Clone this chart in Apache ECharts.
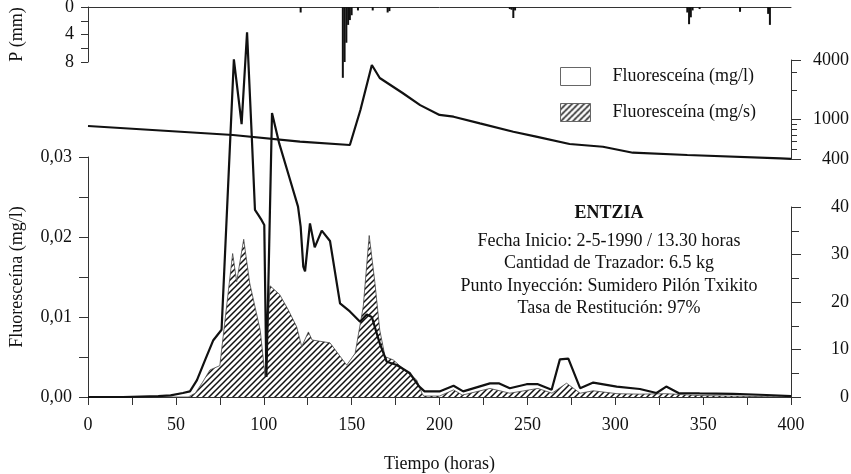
<!DOCTYPE html>
<html>
<head>
<meta charset="utf-8">
<script src="https://cdn.jsdelivr.net/npm/echarts@6/dist/echarts.min.js"></script>
<style>
  html, body { margin: 0; padding: 0; background: #fff; }
  #chart { width: 851px; height: 474px; }
</style>
</head>
<body>
<div id="chart"></div>
<script>
// precipitacion (mm) por hora
const rainHours = [121, 145, 146, 147, 148, 149, 150, 153.6, 162, 170.5, 171.5, 240, 241, 242, 243, 341, 342, 343, 344, 348, 371, 387, 388]
const rainValues = [0.8, 10.3, 8, 5.2, 2.6, 1.9, 1.2, 0.5, 0.5, 0.8, 0.6, 0.3, 0.4, 1.6, 0.5, 0.8, 2.5, 1.5, 0.5, 0.3, 0.7, 1.0, 2.6]

// caudal (escala log)
const flowHours = [0, 82.5, 120.6, 149, 155, 161.5, 166, 179, 189, 200, 208, 223, 242, 255, 274, 293, 310, 341, 394, 400]
const flowValues = [862, 699, 598, 554, 1249, 3561, 2633, 1857, 1400, 1115, 1070, 916, 754, 672, 567, 532, 463, 439, 406, 402]

// fluoresceina (mg/l)
const concHours = [0, 20, 40, 47, 54, 58, 62, 66.6, 71.3, 76, 83, 87.4, 90.5, 93.1, 95, 96.8, 98.8, 100.3, 101.5, 104.7,
  108.8, 114.5, 119.5, 121, 122.5, 123.5, 126.3, 129, 133, 137.7, 143.4, 149, 154.8, 158.6, 161.5, 166, 170, 175.7,
  183, 188.5, 191.5, 200, 208, 213.5, 228.7, 234, 240, 249.6, 256, 263.8, 268.5, 273.3, 280, 287.5, 300.8, 314,
  323.5, 329, 336, 348, 367, 386, 400]
const concValues = [0, 0, 0.0001, 0.0002, 0.0005, 0.0007, 0.0021, 0.0046, 0.0071, 0.0084, 0.0422, 0.0341, 0.0456, 0.0330, 0.0234, 0.0228, 0.0221, 0.0215, 0.0025, 0.0355,
  0.0317, 0.0275, 0.0238, 0.0213, 0.0163, 0.0157, 0.0217, 0.0187, 0.0208, 0.0195, 0.0117, 0.0107, 0.0094, 0.0103, 0.0100, 0.0067, 0.0044, 0.0040,
  0.0030, 0.0013, 0.0007, 0.0007, 0.0014, 0.0007, 0.0017, 0.0017, 0.0011, 0.0016, 0.0016, 0.0009, 0.0047, 0.0048, 0.0011, 0.0018, 0.0013, 0.0010,
  0.0005, 0.0013, 0.0005, 0.00045, 0.0004, 0.00025, 0.0001]

// fluoresceina (mg/s)
const fluxHours = [0, 57, 61, 65, 69.4, 75, 82.3, 84.6, 88.6, 92, 98, 100.8, 103.6, 109, 114, 118.7, 121.6, 125.4, 127.5, 137.7,
  147.2, 152, 156.6, 160, 163.3, 166, 169, 173.7, 181.3, 187, 190, 191, 200, 208, 213, 228.7, 240, 256, 264, 272.3,
  280, 287.5, 301, 314, 329, 348, 380, 400]
const fluxValues = [0, 0, 0.8, 3, 5.7, 6.6, 30.2, 24.3, 33.2, 24, 14, 4.3, 23.4, 21.6, 18.3, 14.8, 10.6, 13.7, 12, 11.4,
  6.7, 9.2, 19, 34, 23.9, 14.1, 8.5, 7.8, 5.3, 3.6, 0.8, 0.2, 0.2, 1.5, 0.4, 1.8, 0.8, 1.8, 0.8, 2.9,
  0.8, 1.3, 0.7, 0.6, 0.7, 0.3, 0.1, 0]

const flowMajorTicks = [400, 1000, 4000]
const flowMinorTicks = [500, 600, 700, 800, 900, 2000, 3000]

const infoLines = ['Fecha Inicio: 2-5-1990 / 13.30 horas', 'Cantidad de Trazador: 6.5 kg',
  'Punto Inyección: Sumidero Pilón Txikito', 'Tasa de Restitución: 97%']

const pair = (xs, ys) => xs.map((x, i) => [x, ys[i]])

const FONT = '"Liberation Serif", "DejaVu Serif", serif'
const INK = '#111'
const AX = '#333'

// rayado diagonal
const hatch = (() => {
  const c = document.createElement('canvas')
  const s = 6
  c.width = s
  c.height = s
  const g = c.getContext('2d')
  g.strokeStyle = '#111'
  g.lineWidth = 1.5
  g.beginPath()
  g.moveTo(0, s); g.lineTo(s, 0)
  g.moveTo(-1, 1); g.lineTo(1, -1)
  g.moveTo(s - 1, s + 1); g.lineTo(s + 1, s - 1)
  g.stroke()
  return c
})()
const hatchFill = { image: hatch, repeat: 'repeat' }

const mkGrid = (top, height) => ({ left: 88, right: 60, top, height, outerBoundsMode: 'none', containLabel: false })
const grids = [mkGrid(7, 55), mkGrid(60, 99), mkGrid(157, 240), mkGrid(207, 190)]

const lbl = { fontFamily: FONT, fontSize: 18, color: INK }
const axLine = { show: true, onZero: false, lineStyle: { color: AX, width: 1 } }
const nameStyle = { fontFamily: FONT, fontSize: 18, color: INK }

const chart = echarts.init(document.getElementById('chart'), null, { renderer: 'canvas' })

chart.setOption({
  animation: false,
  backgroundColor: '#fff',
  grid: grids,
  xAxis: [
    { gridIndex: 0, type: 'value', min: 0, max: 400, position: 'top', axisLine: axLine,
      axisTick: { show: false }, axisLabel: { show: false }, splitLine: { show: false } },
    { gridIndex: 1, type: 'value', min: 0, max: 400, show: false },
    { gridIndex: 2, type: 'value', min: 0, max: 400, interval: 50, position: 'bottom',
      axisLine: axLine, axisTick: { length: 8, lineStyle: { color: AX } },
      minorTick: { show: true, splitNumber: 2, length: 8, lineStyle: { color: AX } },
      axisLabel: Object.assign({ margin: 19 }, lbl), splitLine: { show: false },
      name: 'Tiempo (horas)', nameLocation: 'middle', nameGap: 58, nameTextStyle: nameStyle },
    { gridIndex: 3, type: 'value', min: 0, max: 400, show: false }
  ],
  yAxis: [
    { gridIndex: 0, type: 'value', min: 0, max: 8, interval: 2, inverse: true, position: 'left',
      axisLine: axLine, axisTick: { length: 7, lineStyle: { color: AX } },
      axisLabel: Object.assign({ margin: 14, formatter: v => (v % 4 === 0 ? String(v) : '') }, lbl),
      splitLine: { show: false },
      name: 'P (mm)', nameLocation: 'middle', nameGap: 62, nameRotate: 90, nameTextStyle: nameStyle },
    { gridIndex: 1, type: 'log', logBase: 10, min: 400, max: 4000, position: 'right',
      axisLine: axLine,
      axisTick: { length: 10, customValues: flowMajorTicks, lineStyle: { color: AX } },
      axisLabel: Object.assign({ margin: 58, align: 'right', customValues: flowMajorTicks,
        formatter: v => String(Math.round(v)) }, lbl),
      splitLine: { show: false } },
    { gridIndex: 1, type: 'log', logBase: 10, min: 400, max: 4000, position: 'right',
      axisLine: { show: false, onZero: false },
      axisTick: { length: 6, customValues: flowMinorTicks, lineStyle: { color: AX } },
      axisLabel: { show: false }, splitLine: { show: false } },
    { gridIndex: 2, type: 'value', min: 0, max: 0.03, interval: 0.01, position: 'left',
      axisLine: axLine, axisTick: { length: 9, lineStyle: { color: AX } },
      minorTick: { show: true, splitNumber: 2, length: 9, lineStyle: { color: AX } },
      axisLabel: Object.assign({ margin: 16, formatter: v => v.toFixed(2).replace('.', ',') }, lbl),
      splitLine: { show: false },
      name: 'Fluoresceína (mg/l)', nameLocation: 'middle', nameGap: 62, nameRotate: 90, nameTextStyle: nameStyle },
    { gridIndex: 3, type: 'value', min: 0, max: 40, interval: 10, position: 'right',
      axisLine: axLine, axisTick: { length: 10, lineStyle: { color: AX } },
      minorTick: { show: true, splitNumber: 2, length: 8, lineStyle: { color: AX } },
      axisLabel: Object.assign({ margin: 58, align: 'right' }, lbl),
      splitLine: { show: false } }
  ],
  legend: {
    orient: 'vertical', left: 555, top: 62, itemWidth: 30, itemHeight: 18, itemGap: 17,
    textStyle: { fontFamily: FONT, fontSize: 18, color: INK, padding: [0, 0, 0, 17] },
    selectedMode: false,
    data: [
      { name: 'Fluoresceína (mg/l)', icon: 'rect', itemStyle: { color: '#fff', borderColor: '#666', borderWidth: 1 } },
      { name: 'Fluoresceína (mg/s)', icon: 'rect', itemStyle: { color: hatchFill, borderColor: '#666', borderWidth: 1 } }
    ]
  },
  graphic: [
    { type: 'text', x: 609, y: 213, style: { text: 'ENTZIA', font: 'bold 18px ' + FONT, fill: INK, textAlign: 'center', textVerticalAlign: 'middle' } }
  ].concat(infoLines.map((t, i) => ({
    type: 'text', x: 609, y: 241 + i * 22.5,
    style: { text: t, font: '18px ' + FONT, fill: INK, textAlign: 'center', textVerticalAlign: 'middle' }
  }))),
  series: [
    { name: 'P', type: 'bar', xAxisIndex: 0, yAxisIndex: 0, barWidth: 2, clip: false,
      itemStyle: { color: '#111' }, data: pair(rainHours, rainValues) },
    { name: 'Caudal', type: 'line', xAxisIndex: 1, yAxisIndex: 1, symbol: 'none', clip: false,
      lineStyle: { color: '#111', width: 2.2 }, data: pair(flowHours, flowValues) },
    { name: 'Fluoresceína (mg/s)', type: 'line', xAxisIndex: 3, yAxisIndex: 4, symbol: 'none',
      lineStyle: { color: '#444', width: 0.8 }, itemStyle: { color: hatchFill },
      areaStyle: { color: hatchFill, opacity: 1 }, data: pair(fluxHours, fluxValues), z: 2 },
    { name: 'Fluoresceína (mg/l)', type: 'line', xAxisIndex: 2, yAxisIndex: 3, symbol: 'none', clip: false,
      lineStyle: { color: '#111', width: 2.2 }, itemStyle: { color: '#fff' },
      data: pair(concHours, concValues), z: 3 }
  ]
})
</script>
</body>
</html>
